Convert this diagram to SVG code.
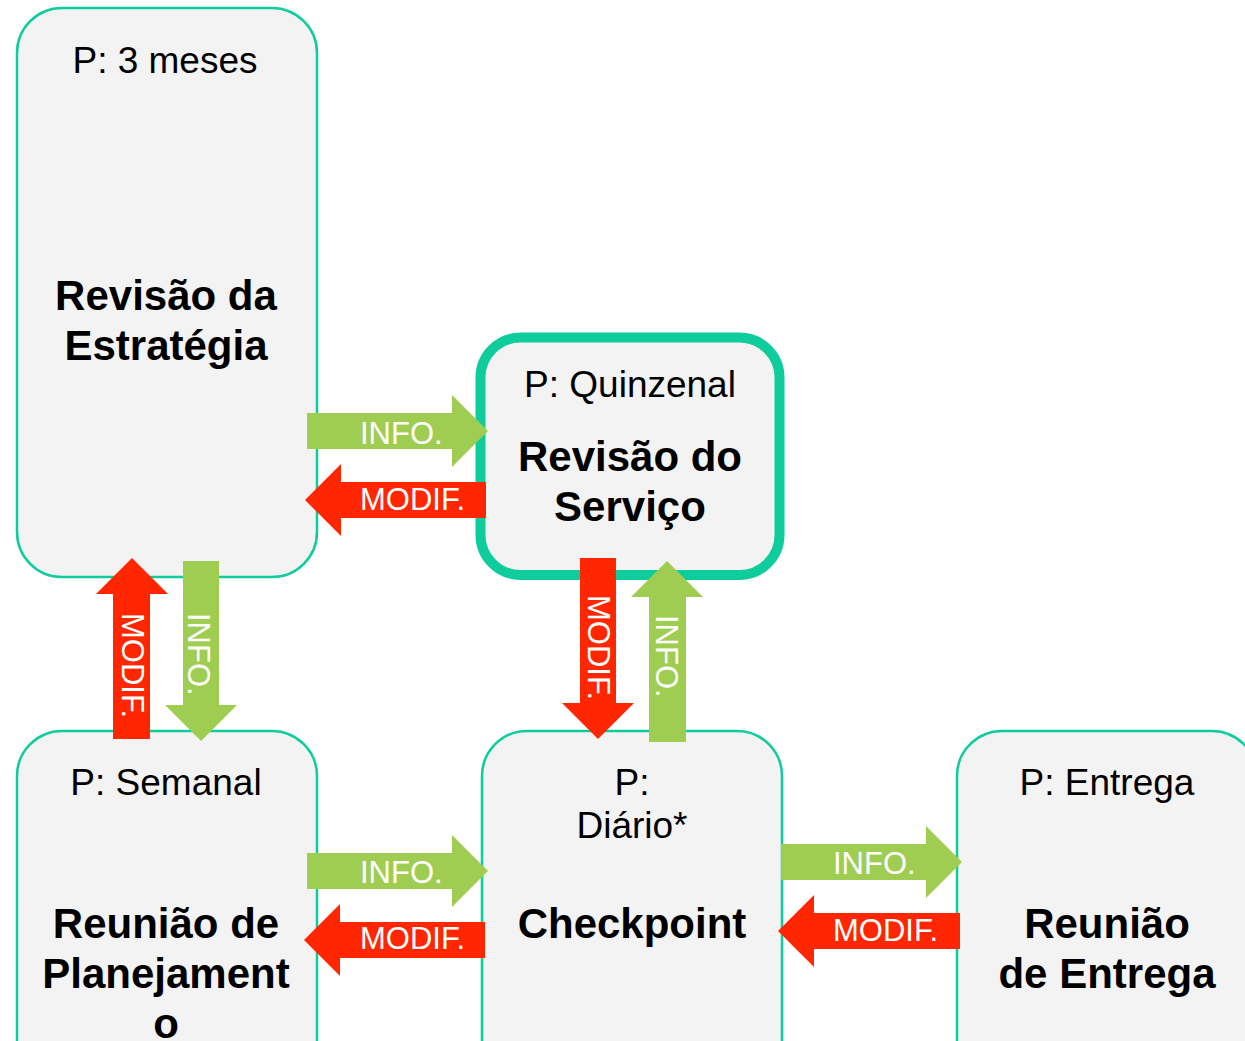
<svg xmlns="http://www.w3.org/2000/svg" width="1245" height="1041" viewBox="0 0 1245 1041">
<style>
.box{fill:#f3f3f3;stroke:#0ecc9c;stroke-width:2.5}
.thick{stroke-width:10}
.p{font-family:"Liberation Sans",Arial,sans-serif;font-size:37px;fill:#000;text-anchor:middle}
.t{font-family:"Liberation Sans",Arial,sans-serif;font-size:42px;font-weight:bold;fill:#000;text-anchor:middle}
.g{fill:#9fcd52}
.r{fill:#ff2600}
.l{font-family:"Liberation Sans",Arial,sans-serif;font-size:31px;fill:#fff}
</style>
<rect width="1245" height="1041" fill="#fff"/>
<g id="node-estrategia">
<rect class="box" x="17" y="8" width="300" height="569" rx="45"/>
<text class="p" x="165" y="73">P: 3 meses</text>
<text class="t" x="166" y="310">Revisão da</text>
<text class="t" x="166" y="360">Estratégia</text>
</g>
<g id="node-servico">
<rect class="box thick" x="480.5" y="337.5" width="299" height="237.5" rx="40"/>
<text class="p" x="630" y="397">P: Quinzenal</text>
<text class="t" x="630" y="471">Revisão do</text>
<text class="t" x="630" y="521">Serviço</text>
</g>
<g id="node-planejamento">
<rect class="box" x="17" y="731" width="300" height="360" rx="45"/>
<text class="p" x="166" y="795">P: Semanal</text>
<text class="t" x="166" y="938">Reunião de</text>
<text class="t" x="166" y="988">Planejament</text>
<text class="t" x="166" y="1038">o</text>
</g>
<g id="node-checkpoint">
<rect class="box" x="482" y="731" width="300" height="360" rx="45"/>
<text class="p" x="632" y="795">P:</text>
<text class="p" x="632" y="838">Diário*</text>
<text class="t" x="632" y="938">Checkpoint</text>
</g>
<g id="node-entrega">
<rect class="box" x="957" y="731" width="300" height="360" rx="45"/>
<text class="p" x="1107" y="795">P: Entrega</text>
<text class="t" x="1107" y="938">Reunião</text>
<text class="t" x="1107" y="988">de Entrega</text>
</g>
<g id="connectors">
<polygon class="g" points="307,413 452,413 452,395 488,431 452,467 452,449 307,449"/>
<text class="l" x="360" y="444">INFO.</text>
<polygon class="r" points="486,482 341,482 341,464 305,500 341,536 341,518 486,518"/>
<text class="l" x="360" y="510">MODIF.</text>
<polygon class="r" points="113,739 113,594 96,594 132,558 168,594 150,594 150,739"/>
<text class="l" transform="translate(122,613) rotate(90)">MODIF.</text>
<polygon class="g" points="183,561 219,561 219,705 237,705 201,741 165,705 183,705"/>
<text class="l" transform="translate(188,613) rotate(90)">INFO.</text>
<polygon class="r" points="580,558 616,558 616,703 634,703 598,739 562,703 580,703"/>
<text class="l" transform="translate(588,595) rotate(90)">MODIF.</text>
<polygon class="g" points="649,742 649,597 631,597 667,561 703,597 686,597 686,742"/>
<text class="l" transform="translate(656,615) rotate(90)">INFO.</text>
<polygon class="g" points="307,853 452,853 452,835 488,871 452,907 452,889 307,889"/>
<text class="l" x="360" y="883">INFO.</text>
<polygon class="r" points="485,922 340,922 340,904 304,940 340,976 340,958 485,958"/>
<text class="l" x="360" y="949">MODIF.</text>
<polygon class="g" points="781,844 926,844 926,826 962,862 926,898 926,880 781,880"/>
<text class="l" x="833" y="874">INFO.</text>
<polygon class="r" points="960,913 814,913 814,895 778,931 814,967 814,949 960,949"/>
<text class="l" x="833" y="941">MODIF.</text>
</g>
</svg>
